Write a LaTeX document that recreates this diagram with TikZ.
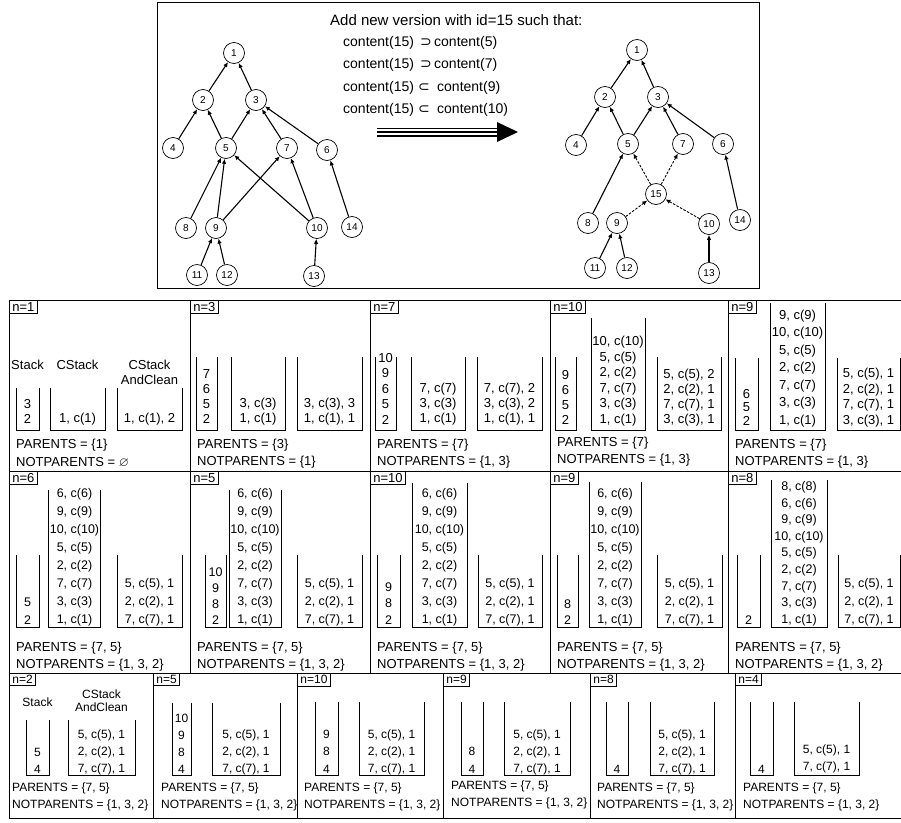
\documentclass[tikz,border=0pt]{standalone}
\usepackage{fontspec}
\usepackage{amssymb}
\setmainfont{Liberation Sans}
\newfontfamily\symf{DejaVu Sans}
\usetikzlibrary{arrows.meta}
\newcommand\ubox[4]{\draw[ub] (#1,#3) |- (#2,#4) -- (#2,#3);}
\newcommand\stk[6][it]{\foreach \itm [count=\i from 0] in {#6} {\node[#1] (#2\i) at (#3,{#4-\i*#5}) {\itm};}}
\begin{document}
\begin{tikzpicture}[x=1pt,y=-1pt,
  gn/.style={circle,draw,line width=0.7pt,minimum size=21pt,inner sep=0pt,font=\fontsize{10}{10}\selectfont},
  ed/.style={-{Latex[length=5pt,width=4.5pt]},line width=1.1pt},
  dsh/.style={ed,line width=0.9pt,dash pattern=on 2.5pt off 1.5pt},
  ttl/.style={inner sep=0pt,font=\fontsize{15}{16}\selectfont},
  tt/.style={inner sep=0pt,font=\fontsize{14}{15}\selectfont},
  sy/.style={inner sep=0pt,font=\symf\fontsize{14}{15}\selectfont},
  it/.style={inner sep=0pt,font=\fontsize{13}{15}\selectfont},
  itm/.style={inner sep=0pt,font=\fontsize{12.5}{15}\selectfont},
  its/.style={inner sep=0pt,font=\fontsize{12}{13}\selectfont},
  lbl/.style={draw,line width=0.8pt,inner xsep=3pt,inner ysep=2pt,anchor=north west,font=\fontsize{13}{13}\selectfont},
  lbls/.style={lbl,font=\fontsize{12}{12}\selectfont},
  frm/.style={line width=1pt},
  ub/.style={line width=0.8pt}]
\useasboundingbox (0,0) rectangle (901,822);
% ---------------- top box
\draw[frm] (157,2) rectangle (759,288);
% left graph
\node[gn] (a1) at (234,53) {1};
\node[gn] (a2) at (203,100) {2};
\node[gn] (a3) at (256,100) {3};
\node[gn] (a4) at (173,148) {4};
\node[gn] (a5) at (226,148) {5};
\node[gn] (a7) at (287,148) {7};
\node[gn] (a6) at (327,150) {6};
\node[gn] (a8) at (186,228) {8};
\node[gn] (a9) at (216,228) {9};
\node[gn] (a10) at (317,228) {10};
\node[gn] (a14) at (352,227) {14};
\node[gn] (a11) at (197,275) {11};
\node[gn] (a12) at (227,275) {12};
\node[gn] (a13) at (314,276) {13};
\foreach \c/\p in {2/1,3/1,4/2,5/2,5/3,7/3,6/3,8/5,9/5,10/5,9/7,10/7,14/6,11/9,12/9,13/10}
  {\draw[ed] (a\c) -- (a\p);}
% text
\node[ttl,anchor=west] (title) at (330,20) {Add new version with id=15 such that:};
\node[tt,anchor=west] (l1) at (343,43) {content(15)};
\node[sy] (s1) at (426,43) {⊃};
\node[tt,anchor=west] (r1) at (434,43) {content(5)};
\node[tt,anchor=west] (l2) at (343,65) {content(15)};
\node[sy] (s2) at (426,65) {⊃};
\node[tt,anchor=west] (r2) at (434,65) {content(7)};
\node[tt,anchor=west] (l3) at (343,88) {content(15)};
\node[sy] (s3) at (424,88) {⊂};
\node[tt,anchor=west] (r3) at (437,88) {content(9)};
\node[tt,anchor=west] (l4) at (343,110) {content(15)};
\node[sy] (s4) at (424,110) {⊂};
\node[tt,anchor=west] (r4) at (437,110) {content(10)};
% big arrow
\coordinate (arrS) at (377,132);
\coordinate (arrE) at (500,132);
\draw[line width=9pt] (arrS) -- (arrE);
\draw[white,line width=5.5pt] (arrS) -- (arrE);
\draw[line width=2pt] (arrS) -- (arrE);
\fill (497,122) -- (518,132) -- (497,142) -- cycle;
% right graph
\node[gn] (b1) at (637,50) {1};
\node[gn] (b2) at (605,97) {2};
\node[gn] (b3) at (658,97) {3};
\node[gn] (b4) at (576,145) {4};
\node[gn] (b5) at (628,144) {5};
\node[gn] (b7) at (683,144) {7};
\node[gn] (b6) at (723,144) {6};
\node[gn] (b15) at (656,194) {15};
\node[gn] (b8) at (588,223) {8};
\node[gn] (b9) at (617,223) {9};
\node[gn] (b10) at (709,224) {10};
\node[gn] (b14) at (740,220) {14};
\node[gn] (b11) at (595,268) {11};
\node[gn] (b12) at (627,268) {12};
\node[gn] (b13) at (709,273) {13};
\foreach \c/\p in {2/1,3/1,4/2,5/2,5/3,7/3,6/3,8/5,14/6,11/9,12/9,13/10}
  {\draw[ed] (b\c) -- (b\p);}
\foreach \c/\p in {15/5,15/7,9/15,10/15}
  {\draw[dsh] (b\c) -- (b\p);}
% ---------------- frames
\foreach \xa/\xb in {9/190,190/370,370/550,550/728,728/902}
  {\draw[frm] (\xa,300) rectangle (\xb,471); \draw[frm] (\xa,471) rectangle (\xb,673);}
\foreach \xa/\xb in {9/153,153/297,297/443,443/590,590/735,735/902}
  {\draw[frm] (\xa,673) rectangle (\xb,818);}
% ================= ROW 1
% n=1
\node[lbl] (L11) at (9,300) {n=1};
\node[it] (h1a) at (27.5,365) {Stack};
\node[it] (h1b) at (77.5,365) {CStack};
\node[it,align=center] (h1c) at (149.5,372) {CStack\\AndClean};
\ubox{16}{39}{388}{430}\ubox{50}{105}{388}{430}\ubox{117}{182}{388}{430}
\stk{s11}{27.5}{419}{15}{2,3}
\stk{c11}{77.5}{419}{15}{{1, c(1)}}
\stk{k11}{149.5}{419}{15}{{1, c(1), 2}}
\node[it,anchor=west] (p11) at (16,445) {PARENTS = \{1\}};
\node[it,anchor=west] (q11) at (16,462) {NOTPARENTS = $\varnothing$};
% n=3
\node[lbl] (L12) at (190,300) {n=3};
\ubox{196}{217}{357}{430}\ubox{231}{285}{357}{430}\ubox{297}{362}{357}{430}
\stk{s12}{206.5}{419}{15}{2,5,6,7}
\stk{c12}{258}{419}{15}{{1, c(1)},{3, c(3)}}
\stk{k12}{329.5}{419}{15}{{1, c(1), 1},{3, c(3), 3}}
\node[it,anchor=west] (p12) at (197,445) {PARENTS = \{3\}};
\node[it,anchor=west] (q12) at (197,462) {NOTPARENTS = \{1\}};
% n=7
\node[lbl] (L13) at (370,300) {n=7};
\ubox{375}{396}{357}{430}\ubox{411}{465}{357}{430}\ubox{477}{542}{357}{430}
\stk{s13}{385.5}{420}{15.5}{2,5,6,9,10}
\stk{c13}{438}{419}{15}{{1, c(1)},{3, c(3)},{7, c(7)}}
\stk{k13}{509.5}{419}{15}{{1, c(1), 1},{3, c(3), 2},{7, c(7), 2}}
\node[it,anchor=west] (p13) at (377,445) {PARENTS = \{7\}};
\node[it,anchor=west] (q13) at (377,462) {NOTPARENTS = \{1, 3\}};
% n=10
\node[lbl] (L14) at (550,300) {n=10};
\ubox{555}{576}{357}{430}\ubox{591}{645}{318}{430}\ubox{657}{721}{357}{430}
\stk{s14}{565.5}{420}{15}{2,5,6,9}
\stk{c14}{618}{420}{15.5}{{1, c(1)},{3, c(3)},{7, c(7)},{2, c(2)},{5, c(5)},{10, c(10)}}
\stk{k14}{689}{420}{15}{{3, c(3), 1},{7, c(7), 1},{2, c(2), 1},{5, c(5), 2}}
\node[it,anchor=west] (p14) at (557,443) {PARENTS = \{7\}};
\node[it,anchor=west] (q14) at (557,460) {NOTPARENTS = \{1, 3\}};
% n=9
\node[lbl] (L15) at (728,300) {n=9};
\ubox{735}{758}{358}{430}\ubox{770}{825}{303}{430}\ubox{837}{900}{358}{430}
\stk{s15}{746.5}{421}{13.5}{2,5,6}
\stk{c15}{797.5}{421}{17.5}{{1, c(1)},{3, c(3)},{7, c(7)},{2, c(2)},{5, c(5)},{10, c(10)},{9, c(9)}}
\stk{k15}{868.5}{421}{15.5}{{3, c(3), 1},{7, c(7), 1},{2, c(2), 1},{5, c(5), 1}}
\node[it,anchor=west] (p15) at (735,445) {PARENTS = \{7\}};
\node[it,anchor=west] (q15) at (735,462) {NOTPARENTS = \{1, 3\}};
% ================= ROW 2
% n=6
\node[lbl] (L21) at (9,471) {n=6};
\ubox{16}{39}{555}{627}\ubox{48.5}{100.5}{490}{627}\ubox{117}{182}{555}{627}
\stk[itm]{s21}{27.5}{620}{18}{2,5}
\stk[itm]{c21}{74.5}{620}{18}{{1, c(1)},{3, c(3)},{7, c(7)},{2, c(2)},{5, c(5)},{10, c(10)},{9, c(9)},{6, c(6)}}
\stk[itm]{k21}{149.5}{620}{18}{{7, c(7), 1},{2, c(2), 1},{5, c(5), 1}}
\node[it,anchor=west] (p21) at (16,648) {PARENTS = \{7, 5\}};
\node[it,anchor=west] (q21) at (16,665) {NOTPARENTS = \{1, 3, 2\}};
% n=5
\node[lbl] (L22) at (190,471) {n=5};
\ubox{205}{226}{555}{627}\ubox{229}{281}{490}{627}\ubox{297}{362}{555}{627}
\stk[itm]{s22}{215.5}{620}{16}{2,8,9,10}
\stk[itm]{c22}{255}{620}{18}{{1, c(1)},{3, c(3)},{7, c(7)},{2, c(2)},{5, c(5)},{10, c(10)},{9, c(9)},{6, c(6)}}
\stk[itm]{k22}{329.5}{620}{18}{{7, c(7), 1},{2, c(2), 1},{5, c(5), 1}}
\node[it,anchor=west] (p22) at (197,648) {PARENTS = \{7, 5\}};
\node[it,anchor=west] (q22) at (197,665) {NOTPARENTS = \{1, 3, 2\}};
% n=10
\node[lbl] (L23) at (370,471) {n=10};
\ubox{377}{400}{555}{627}\ubox{412}{467}{483}{627}\ubox{478}{542}{555}{627}
\stk[itm]{s23}{388.5}{620}{16.5}{2,8,9}
\stk[itm]{c23}{439.5}{620}{18}{{1, c(1)},{3, c(3)},{7, c(7)},{2, c(2)},{5, c(5)},{10, c(10)},{9, c(9)},{6, c(6)}}
\stk[itm]{k23}{510}{620}{18}{{7, c(7), 1},{2, c(2), 1},{5, c(5), 1}}
\node[it,anchor=west] (p23) at (377,648) {PARENTS = \{7, 5\}};
\node[it,anchor=west] (q23) at (377,665) {NOTPARENTS = \{1, 3, 2\}};
% n=9
\node[lbl] (L24) at (550,471) {n=9};
\ubox{557}{578}{555}{627}\ubox{589}{641}{482}{627}\ubox{657}{722}{555}{627}
\stk[itm]{s24}{567.5}{620}{16}{2,8}
\stk[itm]{c24}{615}{620}{18}{{1, c(1)},{3, c(3)},{7, c(7)},{2, c(2)},{5, c(5)},{10, c(10)},{9, c(9)},{6, c(6)}}
\stk[itm]{k24}{689.5}{620}{18}{{7, c(7), 1},{2, c(2), 1},{5, c(5), 1}}
\node[it,anchor=west] (p24) at (557,648) {PARENTS = \{7, 5\}};
\node[it,anchor=west] (q24) at (557,665) {NOTPARENTS = \{1, 3, 2\}};
% n=8
\node[lbl] (L25) at (728,471) {n=8};
\ubox{737}{760}{555}{627}\ubox{771}{827}{480}{627}\ubox{838}{900}{555}{627}
\stk[itm]{s25}{748.5}{620}{16}{2}
\stk[itm]{c25}{799}{620}{16.6}{{1, c(1)},{3, c(3)},{7, c(7)},{2, c(2)},{5, c(5)},{10, c(10)},{9, c(9)},{6, c(6)},{8, c(8)}}
\stk[itm]{k25}{869}{620}{18}{{7, c(7), 1},{2, c(2), 1},{5, c(5), 1}}
\node[it,anchor=west] (p25) at (735,648) {PARENTS = \{7, 5\}};
\node[it,anchor=west] (q25) at (735,665) {NOTPARENTS = \{1, 3, 2\}};
% ================= ROW 3
% n=2
\node[lbls] (L31) at (9,673) {n=2};
\node[its] (h3a) at (37.5,702) {Stack};
\node[its,align=center] (h3c) at (101.5,701) {CStack\\AndClean};
\ubox{26}{49}{720}{775}\ubox{68}{135}{720}{775}
\stk[its]{s31}{37.5}{769}{17}{4,5}
\stk[its]{k31}{101.5}{769}{17}{{7, c(7), 1},{2, c(2), 1},{5, c(5), 1}}
\node[its,anchor=west] (p31) at (12,788) {PARENTS = \{7, 5\}};
\node[its,anchor=west] (q31) at (12,805) {NOTPARENTS = \{1, 3, 2\}};
% n=5
\node[lbls] (L32) at (153,673) {n=5};
\ubox{172}{191}{703}{775}\ubox{212}{280}{703}{775}
\stk[its]{s32}{181.5}{769}{17}{4,8,9,10}
\stk[its]{k32}{246}{769}{17}{{7, c(7), 1},{2, c(2), 1},{5, c(5), 1}}
\node[its,anchor=west] (p32) at (161,788) {PARENTS = \{7, 5\}};
\node[its,anchor=west] (q32) at (161,805) {NOTPARENTS = \{1, 3, 2\}};
% n=10
\node[lbls] (L33) at (297,673) {n=10};
\ubox{315}{338}{702}{775}\ubox{359}{424}{702}{775}
\stk[its]{s33}{326.5}{769}{17.5}{4,8,9}
\stk[its]{k33}{391.5}{769}{17}{{7, c(7), 1},{2, c(2), 1},{5, c(5), 1}}
\node[its,anchor=west] (p33) at (304,788) {PARENTS = \{7, 5\}};
\node[its,anchor=west] (q33) at (304,805) {NOTPARENTS = \{1, 3, 2\}};
% n=9
\node[lbls] (L34) at (443,673) {n=9};
\ubox{461}{483}{702}{775}\ubox{504}{570}{702}{775}
\stk[its]{s34}{472}{769}{17.5}{4,8}
\stk[its]{k34}{537}{769}{17}{{7, c(7), 1},{2, c(2), 1},{5, c(5), 1}}
\node[its,anchor=west] (p34) at (451,786) {PARENTS = \{7, 5\}};
\node[its,anchor=west] (q34) at (451,803) {NOTPARENTS = \{1, 3, 2\}};
% n=8
\node[lbls] (L35) at (590,673) {n=8};
\ubox{606}{628}{702}{775}\ubox{650}{714}{702}{775}
\stk[its]{s35}{617}{769}{17}{4}
\stk[its]{k35}{682}{769}{17}{{7, c(7), 1},{2, c(2), 1},{5, c(5), 1}}
\node[its,anchor=west] (p35) at (597,788) {PARENTS = \{7, 5\}};
\node[its,anchor=west] (q35) at (597,805) {NOTPARENTS = \{1, 3, 2\}};
% n=4
\node[lbls] (L36) at (735,673) {n=4};
\ubox{750}{773}{702}{775}\ubox{794}{859}{702}{775}
\stk[its]{s36}{761.5}{769}{17}{4}
\stk[its]{k36}{826.5}{767}{17}{{7, c(7), 1},{5, c(5), 1}}
\node[its,anchor=west] (p36) at (743,788) {PARENTS = \{7, 5\}};
\node[its,anchor=west] (q36) at (743,805) {NOTPARENTS = \{1, 3, 2\}};
\end{tikzpicture}
\end{document}
